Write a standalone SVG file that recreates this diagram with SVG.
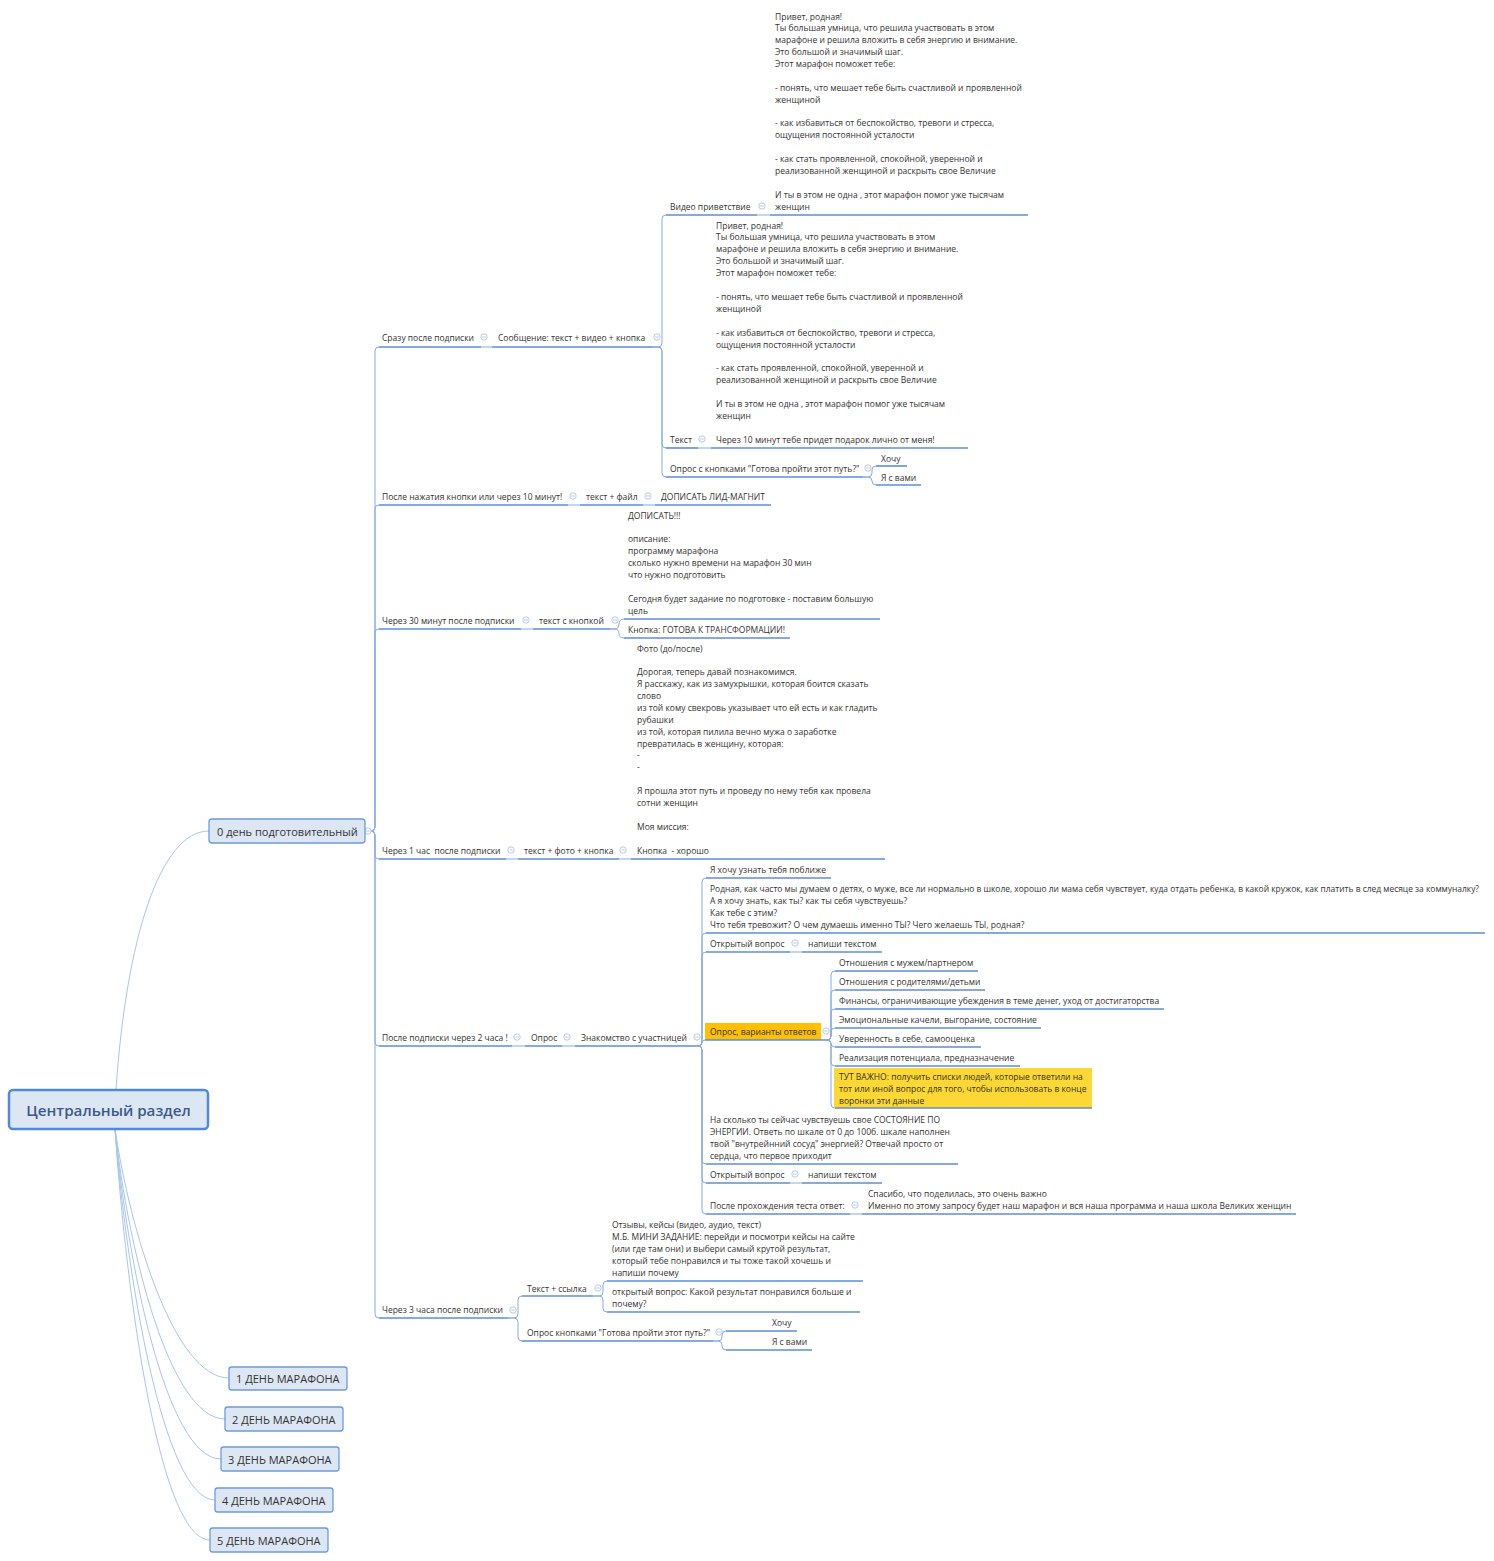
<svg xmlns="http://www.w3.org/2000/svg" width="1494" height="1561" viewBox="0 0 1494 1561">
<style>
text{font-family:"Open Sans","Noto Sans","DejaVu Sans",sans-serif;font-size:8.5px;fill:#333;white-space:pre}
.ul{stroke:#5b8ed6;stroke-width:1.6;fill:none}
.cn{stroke:#86abe3;stroke-width:1;fill:none}
.rc{stroke:#a9c4ee;stroke-width:1;fill:none}
.big{font-size:15.2px;font-weight:600;fill:#3b5a8a}
.mid{font-size:11px;fill:#333}
.box{fill:#dde7f3;stroke:#6b9be0;stroke-width:1.3}
</style>
<defs>
<g id="m"><circle r="3.2" fill="#fff" stroke="#a6bbdc" stroke-width="0.8"/><path d="M-1.8,0H1.8" stroke="#a6bbdc" stroke-width="0.8"/></g>
</defs>
<rect width="1494" height="1561" fill="#fff"/>

<g id="connectors">
<path class="rc" d="M116,1090 C126,940 160,831 209,831"/>
<path class="rc" d="M115,1129 C130,1230 174,1378 229,1378"/>
<path class="rc" d="M115,1129 C128,1250 170,1419 225,1419"/>
<path class="rc" d="M115,1129 C127,1260 166,1459 221,1459"/>
<path class="rc" d="M115,1129 C126,1270 163,1500 215,1500"/>
<path class="rc" d="M115,1129 C125,1280 158,1540 210,1540"/>
<path class="cn" d="M365,831 H371 Q375,831 375,827 V351 Q375,347 379,347"/>
<path class="cn" d="M365,831 H371 Q375,831 375,827 V509 Q375,505 379,505"/>
<path class="cn" d="M365,831 H371 Q375,831 375,827 V633 Q375,629 379,629"/>
<path class="cn" d="M365,831 H371 Q375,831 375,835 V855 Q375,859 379,859"/>
<path class="cn" d="M365,831 H371 Q375,831 375,835 V1042 Q375,1046 379,1046"/>
<path class="cn" d="M365,831 H371 Q375,831 375,835 V1314 Q375,1318 379,1318"/>
<path class="cn" d="M481,347 H492"/>
<path class="cn" d="M652,347 H658 Q662,347 662,343 V219 Q662,215 666,215"/>
<path class="cn" d="M652,347 H658 Q662,347 662,351 V444 Q662,448 666,448"/>
<path class="cn" d="M652,347 H658 Q662,347 662,351 V473 Q662,477 666,477"/>
<path class="cn" d="M757,215 H770"/>
<path class="cn" d="M698,448 H711"/>
<path class="cn" d="M863,477 H868 Q872,477 872,473 V470 Q872,466 876,466"/>
<path class="cn" d="M863,477 H868 Q872,477 872,481 Q872,485 876,485"/>
<path class="cn" d="M568,505 H580"/>
<path class="cn" d="M643,505 H655"/>
<path class="cn" d="M521,629 H533"/>
<path class="cn" d="M610,629 H614 Q619,629 619,624 Q619,619 624,619"/>
<path class="cn" d="M610,629 H614 Q619,629 619,633.5 Q619,638 624,638"/>
<path class="cn" d="M506,859 H518"/>
<path class="cn" d="M619,859 H631"/>
<path class="cn" d="M512,1046 H525"/>
<path class="cn" d="M562,1046 H575"/>
<path class="cn" d="M692,1046 H698 Q702,1046 702,1042 V882 Q702,878 706,878"/>
<path class="cn" d="M692,1046 H698 Q702,1046 702,1042 V937 Q702,933 706,933"/>
<path class="cn" d="M692,1046 H698 Q702,1046 702,1042 V956 Q702,952 706,952"/>
<path class="cn" d="M692,1046 H698 Q702,1046 702,1043 Q702,1040 705,1040"/>
<path class="cn" d="M692,1046 H698 Q702,1046 702,1050 V1160 Q702,1164 706,1164"/>
<path class="cn" d="M692,1046 H698 Q702,1046 702,1050 V1179 Q702,1183 706,1183"/>
<path class="cn" d="M692,1046 H698 Q702,1046 702,1050 V1210 Q702,1214 706,1214"/>
<path class="cn" d="M790,952 H802"/>
<path class="cn" d="M790,1183 H802"/>
<path class="cn" d="M850,1214 H862"/>
<path class="cn" d="M821,1040 H827 Q831,1040 831,1036 V975 Q831,971 835,971"/>
<path class="cn" d="M821,1040 H827 Q831,1040 831,1036 V994 Q831,990 835,990"/>
<path class="cn" d="M821,1040 H827 Q831,1040 831,1036 V1013 Q831,1009 835,1009"/>
<path class="cn" d="M821,1040 H827 Q831,1040 831,1036 V1032 Q831,1028 835,1028"/>
<path class="cn" d="M821,1040 H827 Q831,1040 831,1043.5 Q831,1047 835,1047"/>
<path class="cn" d="M821,1040 H827 Q831,1040 831,1044 V1062 Q831,1066 835,1066"/>
<path class="cn" d="M821,1040 H827 Q831,1040 831,1044 V1104 Q831,1108 835,1108"/>
<path class="cn" d="M508,1318 H514 Q518,1318 518,1314 V1300 Q518,1296 522,1296"/>
<path class="cn" d="M508,1318 H514 Q518,1318 518,1322 V1337 Q518,1341 522,1341"/>
<path class="cn" d="M593,1296 H599 Q603,1296 603,1292 V1285 Q603,1281 607,1281"/>
<path class="cn" d="M593,1296 H599 Q603,1296 603,1300 V1308 Q603,1312 607,1312"/>
<path class="cn" d="M713,1341 H718 Q722,1341 722,1337 V1335 Q722,1331 726,1331"/>
<path class="cn" d="M713,1341 H718 Q722,1341 722,1345 V1346 Q722,1350 726,1350"/>
</g>

<g id="markers">
<use href="#m" x="368" y="831"/>
<use href="#m" x="484" y="337"/>
<use href="#m" x="657" y="337"/>
<use href="#m" x="762" y="206"/>
<use href="#m" x="702" y="439"/>
<use href="#m" x="868" y="468"/>
<use href="#m" x="573" y="496"/>
<use href="#m" x="648" y="496"/>
<use href="#m" x="526" y="620"/>
<use href="#m" x="615" y="620"/>
<use href="#m" x="511" y="850"/>
<use href="#m" x="623" y="850"/>
<use href="#m" x="517" y="1037"/>
<use href="#m" x="567" y="1037"/>
<use href="#m" x="697" y="1037"/>
<use href="#m" x="795" y="943"/>
<use href="#m" x="826" y="1031"/>
<use href="#m" x="795" y="1174"/>
<use href="#m" x="855" y="1205"/>
<use href="#m" x="513" y="1310"/>
<use href="#m" x="598" y="1288"/>
<use href="#m" x="719" y="1332"/>
</g>

<g id="central">
<rect x="9" y="1090" width="199" height="39" rx="4" fill="#dde7f3" stroke="#5089d8" stroke-width="2.5"/>
<text class="big" x="108.5" y="1115.5" text-anchor="middle">Центральный раздел</text>
</g>
<g id="day0">
<rect class="box" x="209" y="819" width="156" height="24" rx="3"/>
<text class="mid" x="217" y="836">0 день подготовительный</text>
</g>
<g id="day1"><rect class="box" x="229" y="1367" width="118" height="23" rx="2.5"/><text class="mid" x="236" y="1383">1 ДЕНЬ МАРАФОНА</text></g>
<g id="day2"><rect class="box" x="225" y="1407" width="118" height="24" rx="2.5"/><text class="mid" x="232" y="1423.5">2 ДЕНЬ МАРАФОНА</text></g>
<g id="day3"><rect class="box" x="221" y="1447" width="118" height="24" rx="2.5"/><text class="mid" x="228" y="1463.5">3 ДЕНЬ МАРАФОНА</text></g>
<g id="day4"><rect class="box" x="215" y="1488" width="118" height="24" rx="2.5"/><text class="mid" x="222" y="1504.5">4 ДЕНЬ МАРАФОНА</text></g>
<g id="day5"><rect class="box" x="210" y="1528" width="118" height="24" rx="2.5"/><text class="mid" x="217" y="1544.5">5 ДЕНЬ МАРАФОНА</text></g>

<g id="n-srazu"><path class="ul" d="M379,347 H481"/><text x="382" y="340.5">Сразу после подписки</text></g>
<g id="n-soobsh"><path class="ul" d="M492,347 H652"/><text x="498" y="340.5">Сообщение: текст + видео + кнопка</text></g>
<g id="n-video"><path class="ul" d="M666,215 H757"/><text x="670" y="209.5">Видео приветствие</text></g>
<g id="n-video-text"><path class="ul" d="M770,215 H1028"/>
<text>
<tspan x="775" y="19.5">Привет, родная!</tspan>
<tspan x="775" y="31.4">Ты большая умница, что решила участвовать в этом</tspan>
<tspan x="775" y="43.3">марафоне и решила вложить в себя энергию и внимание.</tspan>
<tspan x="775" y="55.1">Это большой и значимый шаг.</tspan>
<tspan x="775" y="67">Этот марафон поможет тебе:</tspan>
<tspan x="775" y="90.8">- понять, что мешает тебе быть счастливой и проявленной</tspan>
<tspan x="775" y="102.6">женщиной</tspan>
<tspan x="775" y="126.4">- как избавиться от беспокойство, тревоги и стресса,</tspan>
<tspan x="775" y="138.3">ощущения постоянной усталости</tspan>
<tspan x="775" y="162">- как стать проявленной, спокойной, уверенной и</tspan>
<tspan x="775" y="173.9">реализованной женщиной и раскрыть свое Величие</tspan>
<tspan x="775" y="197.6">И ты в этом не одна , этот марафон помог уже тысячам</tspan>
<tspan x="775" y="209.5">женщин</tspan>
</text></g>
<g id="n-tekst"><path class="ul" d="M666,448 H698"/><text x="670" y="442.5">Текст</text></g>
<g id="n-tekst-text"><path class="ul" d="M711,448 H968"/>
<text>
<tspan x="716" y="228.5">Привет, родная!</tspan>
<tspan x="716" y="240.4">Ты большая умница, что решила участвовать в этом</tspan>
<tspan x="716" y="252.3">марафоне и решила вложить в себя энергию и внимание.</tspan>
<tspan x="716" y="264.2">Это большой и значимый шаг.</tspan>
<tspan x="716" y="276.1">Этот марафон поможет тебе:</tspan>
<tspan x="716" y="299.9">- понять, что мешает тебе быть счастливой и проявленной</tspan>
<tspan x="716" y="311.8">женщиной</tspan>
<tspan x="716" y="335.6">- как избавиться от беспокойство, тревоги и стресса,</tspan>
<tspan x="716" y="347.5">ощущения постоянной усталости</tspan>
<tspan x="716" y="371.3">- как стать проявленной, спокойной, уверенной и</tspan>
<tspan x="716" y="383.2">реализованной женщиной и раскрыть свое Величие</tspan>
<tspan x="716" y="407">И ты в этом не одна , этот марафон помог уже тысячам</tspan>
<tspan x="716" y="418.9">женщин</tspan>
<tspan x="716" y="442.7">Через 10 минут тебе придет подарок лично от меня!</tspan>
</text></g>
<g id="n-opros1"><path class="ul" d="M666,477 H863"/><text x="670" y="471.5">Опрос с кнопками "Готова пройти этот путь?"</text></g>
<g id="n-hochu1"><path class="ul" d="M876,466 H907"/><text x="881" y="461.5">Хочу</text></g>
<g id="n-svami1"><path class="ul" d="M876,485 H921"/><text x="881" y="480.5">Я с вами</text></g>

<g id="n-posle"><path class="ul" d="M379,505 H568"/><text x="382" y="499.5">После нажатия кнопки или через 10 минут!</text></g>
<g id="n-fail"><path class="ul" d="M580,505 H643"/><text x="586" y="499.5">текст + файл</text></g>
<g id="n-lid"><path class="ul" d="M655,505 H771"/><text x="661" y="499.5">ДОПИСАТЬ ЛИД-МАГНИТ</text></g>

<g id="n-30min"><path class="ul" d="M379,629 H521"/><text x="382" y="623.5">Через 30 минут после подписки</text></g>
<g id="n-tsknop"><path class="ul" d="M533,629 H610"/><text x="539" y="623.5">текст с кнопкой</text></g>
<g id="n-dopisat"><path class="ul" d="M624,619 H880"/>
<text>
<tspan x="628" y="518.5">ДОПИСАТЬ!!!</tspan>
<tspan x="628" y="542.3">описание:</tspan>
<tspan x="628" y="554.2">программу марафона</tspan>
<tspan x="628" y="566.1">сколько нужно времени на марафон 30 мин</tspan>
<tspan x="628" y="578">что нужно подготовить</tspan>
<tspan x="628" y="601.8">Сегодня будет задание по подготовке - поставим большую</tspan>
<tspan x="628" y="613.7">цель</tspan>
</text></g>
<g id="n-knopka"><path class="ul" d="M624,638 H790"/><text x="628" y="632.5">Кнопка: ГОТОВА К ТРАНСФОРМАЦИИ!</text></g>

<g id="n-1chas"><path class="ul" d="M379,859 H506"/><text x="382" y="853.5">Через 1 час  после подписки</text></g>
<g id="n-foto"><path class="ul" d="M518,859 H619"/><text x="524" y="853.5">текст + фото + кнопка</text></g>
<g id="n-foto-text"><path class="ul" d="M631,859 H885"/>
<text>
<tspan x="637" y="651.5">Фото (до/после)</tspan>
<tspan x="637" y="675.3">Дорогая, теперь давай познакомимся.</tspan>
<tspan x="637" y="687.1">Я расскажу, как из замухрышки, которая боится сказать</tspan>
<tspan x="637" y="699">слово</tspan>
<tspan x="637" y="710.9">из той кому свекровь указывает что ей есть и как гладить</tspan>
<tspan x="637" y="722.8">рубашки</tspan>
<tspan x="637" y="734.7">из той, которая пилила вечно мужа о заработке</tspan>
<tspan x="637" y="746.5">превратилась в женщину, которая:</tspan>
<tspan x="637" y="758.4">-</tspan>
<tspan x="637" y="770.3">-</tspan>
<tspan x="637" y="794.1">Я прошла этот путь и проведу по нему тебя как провела</tspan>
<tspan x="637" y="805.9">сотни женщин</tspan>
<tspan x="637" y="829.7">Моя миссия:</tspan>
<tspan x="637" y="853.5">Кнопка  - хорошо</tspan>
</text></g>

<g id="n-2chasa"><path class="ul" d="M379,1046 H512"/><text x="382" y="1040.5">После подписки через 2 часа !</text></g>
<g id="n-opros"><path class="ul" d="M525,1046 H562"/><text x="531" y="1040.5">Опрос</text></g>
<g id="n-znak"><path class="ul" d="M575,1046 H692"/><text x="581" y="1040.5">Знакомство с участницей</text></g>
<g id="n-hochu-uznat"><path class="ul" d="M706,878 H831"/><text x="710" y="872.5">Я хочу узнать тебя поближе</text></g>
<g id="n-rodnaya"><path class="ul" d="M706,933 H1485"/>
<text>
<tspan x="710" y="891.5" textLength="769" lengthAdjust="spacingAndGlyphs">Родная, как часто мы думаем о детях, о муже, все ли нормально в школе, хорошо ли мама себя чувствует, куда отдать ребенка, в какой кружок, как платить в след месяце за коммуналку?</tspan>
<tspan x="710" y="903.5">А я хочу знать, как ты? как ты себя чувствуешь?</tspan>
<tspan x="710" y="915.5">Как тебе с этим?</tspan>
<tspan x="710" y="927.5">Что тебя тревожит? О чем думаешь именно ТЫ? Чего желаешь ТЫ, родная?</tspan>
</text></g>
<g id="n-otkr1"><path class="ul" d="M706,952 H790"/><text x="710" y="946.5">Открытый вопрос</text></g>
<g id="n-napishi1"><path class="ul" d="M802,952 H882"/><text x="808" y="946.5">напиши текстом</text></g>
<g id="n-varianty"><rect x="705" y="1023" width="116" height="17" fill="#ffc000"/><path class="ul" d="M705,1040 H821"/><text x="710" y="1034.5">Опрос, варианты ответов</text></g>
<g id="n-v1"><path class="ul" d="M835,971 H978"/><text x="839" y="965.5">Отношения с мужем/партнером</text></g>
<g id="n-v2"><path class="ul" d="M835,990 H985"/><text x="839" y="984.5">Отношения с родителями/детьми</text></g>
<g id="n-v3"><path class="ul" d="M835,1009 H1164"/><text x="839" y="1003.5">Финансы, ограничивающие убеждения в теме денег, уход от достигаторства</text></g>
<g id="n-v4"><path class="ul" d="M835,1028 H1041"/><text x="839" y="1022.5">Эмоциональные качели, выгорание, состояние</text></g>
<g id="n-v5"><path class="ul" d="M835,1047 H981"/><text x="839" y="1041.5">Уверенность в себе, самооценка</text></g>
<g id="n-v6"><path class="ul" d="M835,1066 H1020"/><text x="839" y="1060.5">Реализация потенциала, предназначение</text></g>
<g id="n-vazhno"><rect x="834" y="1068" width="258" height="40" fill="#fdd835"/><path class="ul" d="M835,1108 H1092"/>
<text>
<tspan x="839" y="1079.5">ТУТ ВАЖНО: получить списки людей, которые ответили на</tspan>
<tspan x="839" y="1091.5">тот или иной вопрос для того, чтобы использовать в конце</tspan>
<tspan x="839" y="1103.5">воронки эти данные</tspan>
</text></g>
<g id="n-energiya"><path class="ul" d="M706,1164 H958"/>
<text>
<tspan x="710" y="1122.5">На сколько ты сейчас чувствуешь свое СОСТОЯНИЕ ПО</tspan>
<tspan x="710" y="1134.5">ЭНЕРГИИ. Ответь по шкале от 0 до 100б. шкале наполнен</tspan>
<tspan x="710" y="1146.5">твой "внутрейнний сосуд" энергией? Отвечай просто от</tspan>
<tspan x="710" y="1158.5">сердца, что первое приходит</tspan>
</text></g>
<g id="n-otkr2"><path class="ul" d="M706,1183 H790"/><text x="710" y="1177.5">Открытый вопрос</text></g>
<g id="n-napishi2"><path class="ul" d="M802,1183 H882"/><text x="808" y="1177.5">напиши текстом</text></g>
<g id="n-test"><path class="ul" d="M706,1214 H850"/><text x="710" y="1208.5">После прохождения теста ответ:</text></g>
<g id="n-spasibo"><path class="ul" d="M862,1214 H1296"/>
<text>
<tspan x="868" y="1196.5">Спасибо, что поделилась, это очень важно</tspan>
<tspan x="868" y="1208.5">Именно по этому запросу будет наш марафон и вся наша программа и наша школа Великих женщин</tspan>
</text></g>

<g id="n-3chasa"><path class="ul" d="M379,1318 H508"/><text x="382" y="1313">Через 3 часа после подписки</text></g>
<g id="n-ssylka"><path class="ul" d="M522,1296 H593"/><text x="527" y="1291.5">Текст + ссылка</text></g>
<g id="n-otzyvy"><path class="ul" d="M607,1281 H863"/>
<text>
<tspan x="612" y="1227.5">Отзывы, кейсы (видео, аудио, текст)</tspan>
<tspan x="612" y="1239.5">М.Б. МИНИ ЗАДАНИЕ: перейди и посмотри кейсы на сайте</tspan>
<tspan x="612" y="1251.5">(или где там они) и выбери самый крутой результат,</tspan>
<tspan x="612" y="1263.5">который тебе понравился и ты тоже такой хочешь и</tspan>
<tspan x="612" y="1275.5">напиши почему</tspan>
</text></g>
<g id="n-otkr3"><path class="ul" d="M607,1312 H860"/>
<text>
<tspan x="612" y="1294.5">открытый вопрос: Какой результат понравился больше и</tspan>
<tspan x="612" y="1306.5">почему?</tspan>
</text></g>
<g id="n-opros2"><path class="ul" d="M522,1341 H713"/><text x="527" y="1335.5">Опрос кнопками "Готова пройти этот путь?"</text></g>
<g id="n-hochu2"><path class="ul" d="M726,1331 H797"/><text x="772" y="1325.5">Хочу</text></g>
<g id="n-svami2"><path class="ul" d="M726,1350 H812"/><text x="772" y="1344.5">Я с вами</text></g>
</svg>
